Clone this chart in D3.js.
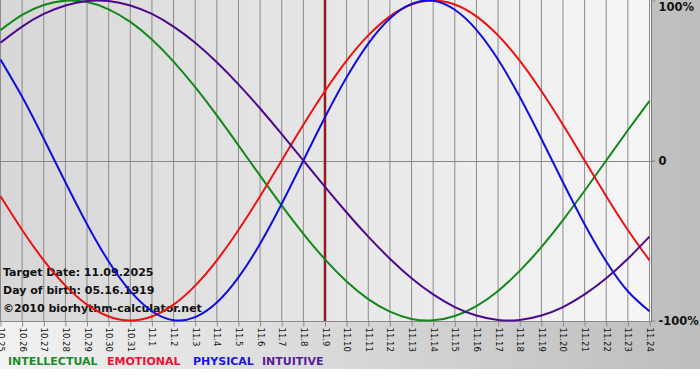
<!DOCTYPE html>
<html>
<head>
<meta charset="utf-8">
<script src="https://cdn.jsdelivr.net/npm/d3@7"></script>
<style>
  html, body { margin: 0; padding: 0; background: #ffffff; }
  svg { display: block; }
</style>
</head>
<body>
<svg id="chart" width="700" height="380"></svg>
<script>
// ---- data ----
const dayLabels = ["10.25","10.26","10.27","10.28","10.29","10.30","10.31",
  "11.1","11.2","11.3","11.4","11.5","11.6","11.7","11.8","11.9","11.10",
  "11.11","11.12","11.13","11.14","11.15","11.16","11.17","11.18","11.19",
  "11.20","11.21","11.22","11.23","11.24"];
const targetLabel = "11.9";

const intellectual = [0.815,0.910,0.972,0.999,0.990,0.945,0.866,0.756,0.618,0.458,
  0.282,0.095,-0.095,-0.282,-0.458,-0.618,-0.756,-0.866,-0.945,-0.990,
  -0.999,-0.972,-0.910,-0.815,-0.690,-0.541,-0.372,-0.189,0.000,0.189,0.372];
const emotional = [-0.223,-0.434,-0.624,-0.782,-0.901,-0.975,-1.000,-0.975,-0.901,-0.782,
  -0.624,-0.434,-0.223,0.000,0.223,0.434,0.624,0.782,0.901,0.975,
  1.000,0.975,0.901,0.782,0.624,0.434,0.223,0.000,-0.223,-0.434,-0.624];
const physical = [0.631,0.398,0.136,-0.136,-0.398,-0.631,-0.817,-0.942,-0.998,-0.979,
  -0.888,-0.731,-0.520,-0.270,0.000,0.270,0.520,0.731,0.888,0.979,
  0.998,0.942,0.817,0.631,0.398,0.136,-0.136,-0.398,-0.631,-0.817,-0.942];
const intuitive = [0.736,0.837,0.916,0.969,0.997,0.997,0.969,0.916,0.837,0.736,
  0.614,0.476,0.325,0.165,0.000,-0.165,-0.325,-0.476,-0.614,-0.736,
  -0.837,-0.916,-0.969,-0.997,-0.997,-0.969,-0.916,-0.837,-0.736,-0.614,-0.476];

const seriesNames = ["INTELLECTUAL","EMOTIONAL","PHYSICAL","INTUITIVE"];
const yTickValues = [1, 0, -1];
const yTickLabels = ["100%", "0", "-100%"];
const infoLines = ["Target Date: 11.09.2025", "Day of birth: 05.16.1919", "\u00A92010 biorhythm-calculator.net"];

// ---- styles ----
const lineColors = ["#12891a", "#ee1111", "#1010dd", "#4e0a8e"];
const legendColors = ["#1b8a2a", "#ee1133", "#1818dd", "#5a1a9a"];
const legendX = [8, 107, 193, 262];

// ---- layout ----
const W = 700, H = 369;
const plot = { left: 0, right: 651, top: 0, bottom: 321 };

const svg = d3.select("#chart");
const defs = svg.append("defs");

const outerGrad = defs.append("linearGradient").attr("id", "outerGrad")
  .attr("x1", "0").attr("x2", "1").attr("y1", "0").attr("y2", "0");
outerGrad.append("stop").attr("offset", "0").attr("stop-color", "#f2f2f2");
outerGrad.append("stop").attr("offset", "1").attr("stop-color", "#bdbdbd");

const plotGrad = defs.append("linearGradient").attr("id", "plotGrad")
  .attr("x1", "0").attr("x2", "1").attr("y1", "0").attr("y2", "0");
plotGrad.append("stop").attr("offset", "0").attr("stop-color", "#d7d7d7");
plotGrad.append("stop").attr("offset", "1").attr("stop-color", "#f6f6f6");

svg.append("rect").attr("x", 0).attr("y", 0).attr("width", W).attr("height", H)
  .attr("fill", "url(#outerGrad)");
svg.append("rect").attr("x", plot.left).attr("y", plot.top)
  .attr("width", plot.right - plot.left).attr("height", plot.bottom - plot.top)
  .attr("fill", "url(#plotGrad)");

const x = d3.scalePoint().domain(dayLabels).range([0.5, 649.5]);
const y = d3.scaleLinear().domain([-1, 1]).range([320.5, 0.5]);

// vertical grid lines
svg.append("g").selectAll("line").data(dayLabels).join("line")
  .attr("x1", d => x(d)).attr("x2", d => x(d))
  .attr("y1", plot.top).attr("y2", plot.bottom)
  .attr("stroke", "#8a8a8a").attr("stroke-width", 1);

// zero line
svg.append("line").attr("x1", plot.left).attr("x2", plot.right + 3)
  .attr("y1", Math.round(y(0)) + 0.5).attr("y2", Math.round(y(0)) + 0.5)
  .attr("stroke", "#8a8a8a").attr("stroke-width", 1);

// plot right border and bottom axis
svg.append("line").attr("x1", plot.right + 0.5).attr("x2", plot.right + 0.5)
  .attr("y1", plot.top).attr("y2", plot.bottom + 1)
  .attr("stroke", "#7a7a7a").attr("stroke-width", 1);

// bottom axis
const xAxis = d3.axisBottom(x).tickSize(5).tickSizeOuter(0).tickPadding(3);
const gx = svg.append("g").attr("transform", `translate(0,${plot.bottom + 0.5})`).call(xAxis);
gx.select(".domain").attr("stroke", "#8a8a8a").attr("d", `M0,0H${plot.right + 1}`);
gx.selectAll(".tick line").attr("stroke", "#8a8a8a");
gx.selectAll(".tick text")
  .attr("transform", "rotate(90)")
  .attr("x", 6).attr("y", 0).attr("dy", "0.35em")
  .attr("text-anchor", "start")
  .attr("font-family", "DejaVu Sans, Verdana, sans-serif")
  .attr("font-size", "8.5px")
  .attr("fill", "#111");

// right axis labels
const yAxis = d3.axisRight(y).tickValues(yTickValues)
  .tickFormat((d, i) => yTickLabels[i]).tickSize(4).tickPadding(3);
const gy = svg.append("g").attr("transform", `translate(${plot.right + 0.5},0)`).call(yAxis);
gy.select(".domain").remove();
gy.selectAll(".tick line").attr("stroke", "#8a8a8a");
gy.selectAll(".tick text")
  .attr("font-family", "DejaVu Sans, Verdana, sans-serif")
  .attr("font-weight", "bold")
  .attr("font-size", "11.5px")
  .attr("fill", "#111")
  .attr("dy", (d) => d === 1 ? "0.9em" : "0.35em");

// target date line
svg.append("line")
  .attr("x1", x(targetLabel)).attr("x2", x(targetLabel))
  .attr("y1", plot.top).attr("y2", plot.bottom)
  .attr("stroke", "#7a1515").attr("stroke-width", 2.5);
svg.append("line")
  .attr("x1", x(targetLabel)).attr("x2", x(targetLabel))
  .attr("y1", plot.top).attr("y2", plot.bottom)
  .attr("stroke", "#b02535").attr("stroke-width", 1);

// info text
svg.append("g").selectAll("text").data(infoLines).join("text")
  .attr("x", 3).attr("y", (d, i) => 276 + i * 18)
  .attr("font-family", "DejaVu Sans, Verdana, sans-serif")
  .attr("font-weight", "bold").attr("font-size", "11px")
  .attr("fill", "#111")
  .text(d => d);

// curves
const allSeries = [intellectual, emotional, physical, intuitive];
const line = d3.line()
  .x((d, i) => x(dayLabels[i]))
  .y(d => y(d))
  .curve(d3.curveNatural);

const clip = defs.append("clipPath").attr("id", "plotClip");
clip.append("rect").attr("x", plot.left).attr("y", plot.top - 1)
  .attr("width", plot.right - plot.left).attr("height", plot.bottom - plot.top + 2);

svg.append("g").attr("clip-path", "url(#plotClip)")
  .selectAll("path").data(allSeries).join("path")
  .attr("d", d => line(d))
  .attr("fill", "none")
  .attr("stroke", (d, i) => lineColors[i])
  .attr("stroke-width", 2);

// legend
svg.append("g").selectAll("text").data(seriesNames).join("text")
  .attr("x", (d, i) => legendX[i]).attr("y", 365)
  .attr("font-family", "DejaVu Sans, Verdana, sans-serif")
  .attr("font-weight", "bold").attr("font-size", "11px")
  .attr("fill", (d, i) => legendColors[i])
  .text(d => d);
</script>
</body>
</html>
